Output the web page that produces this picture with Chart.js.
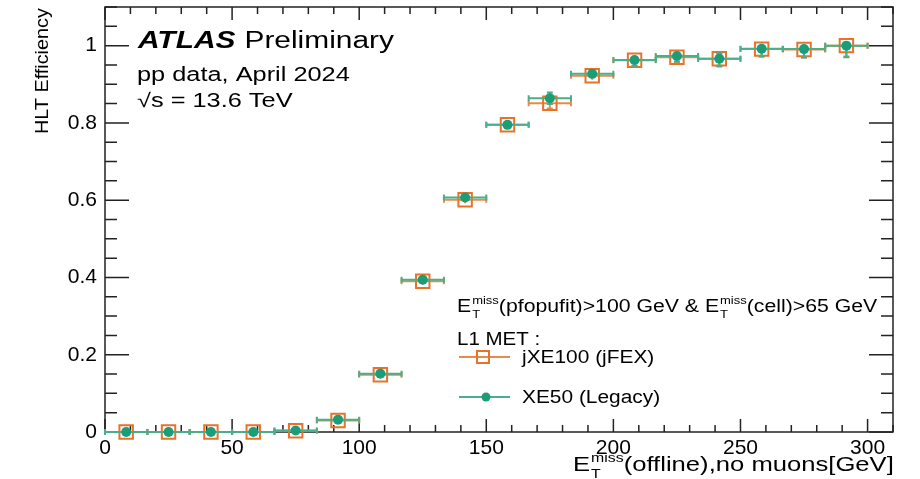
<!DOCTYPE html>
<html>
<head>
<meta charset="utf-8">
<script src="https://cdn.jsdelivr.net/npm/chart.js@4.4.1/dist/chart.umd.min.js"></script>
<style>
  html, body { margin: 0; padding: 0; background: #fff; }
</style>
</head>
<body>
<canvas id="myChart" width="920" height="479"></canvas>
<script>
// bins of offline MET (GeV)
const binCenters = [8.33, 25, 41.67, 58.33, 75, 91.67, 108.33, 125, 141.67, 158.33, 175, 191.67, 208.33, 225, 241.67, 258.33, 275, 291.67];
const binHalfWidth = 8.33;

// jXE100 (jFEX)
const jfexEff     = [0, 0, 0, 0, 0.003, 0.030, 0.148, 0.390, 0.601, 0.795, 0.851, 0.922, 0.962, 0.970, 0.966, 0.991, 0.990, 1.0];
const jfexErrLow  = [0.002, 0.002, 0.002, 0.002, 0.003, 0.004, 0.008, 0.008, 0.009, 0.009, 0.014, 0.010, 0.014, 0.014, 0.018, 0.019, 0.021, 0.028];
const jfexErrHigh = [0.002, 0.002, 0.002, 0.002, 0.003, 0.004, 0.008, 0.008, 0.009, 0.009, 0.014, 0.009, 0.008, 0.008, 0.013, 0.007, 0.008, 0.0];

// XE50 (Legacy)
const legacyEff     = [0, 0, 0, 0, 0.004, 0.032, 0.151, 0.394, 0.607, 0.795, 0.864, 0.927, 0.963, 0.973, 0.966, 0.992, 0.991, 1.0];
const legacyErrLow  = [0.002, 0.002, 0.002, 0.002, 0.003, 0.004, 0.008, 0.008, 0.009, 0.009, 0.015, 0.010, 0.015, 0.014, 0.020, 0.020, 0.022, 0.030];
const legacyErrHigh = [0.002, 0.002, 0.002, 0.002, 0.003, 0.004, 0.008, 0.008, 0.009, 0.009, 0.015, 0.009, 0.008, 0.008, 0.014, 0.007, 0.008, 0.0];

const xTickValues = [0, 50, 100, 150, 200, 250, 300];
const xTickLabels = ['0', '50', '100', '150', '200', '250', '300'];
const yTickValues = [0, 0.2, 0.4, 0.6, 0.8, 1];
const yTickLabels = ['0', '0.2', '0.4', '0.6', '0.8', '1'];

const FONT = '"Liberation Sans", Arial, Helvetica, sans-serif';
const GREEN = '#1b9e77';
const GREEN_BAR = '#4aae8a';
const ORANGE = '#e8722a';
const ORANGE_BAR = '#eb8a48';

// text stretched along its direction, the ROOT output is wider than Liberation Sans
function stretchText(ctx, str, x, y, font, sx) {
  ctx.save();
  ctx.font = font;
  ctx.translate(x, y);
  ctx.scale(sx, 1);
  ctx.textAlign = 'left';
  ctx.textBaseline = 'alphabetic';
  ctx.fillText(str, 0, 0);
  const w = ctx.measureText(str).width * sx;
  ctx.restore();
  return w;
}

// E_T^miss with super/subscript, returns the advance
function etmiss(ctx, x, y, size, sx) {
  let w = stretchText(ctx, 'E', x, y, size + 'px ' + FONT, sx);
  const small = Math.round(size * 0.62);
  const w1 = stretchText(ctx, 'miss', x + w + 1, y - size * 0.42, small + 'px ' + FONT, sx);
  const w2 = stretchText(ctx, 'T', x + w + 1, y + size * 0.32, small + 'px ' + FONT, sx);
  return w + 1 + Math.max(w1, w2);
}

const errorBars = {
  id: 'errorBars',
  beforeDatasetDraw(chart, args) {
    const ds = chart.data.datasets[args.index];
    const xs = chart.scales.x, ys = chart.scales.y;
    const c = chart.ctx;
    c.save();
    c.strokeStyle = ds.barColor;
    c.lineWidth = 2;
    for (let i = 0; i < binCenters.length; i++) {
      const x = xs.getPixelForValue(binCenters[i]);
      const x0 = xs.getPixelForValue(binCenters[i] - binHalfWidth);
      const x1 = xs.getPixelForValue(binCenters[i] + binHalfWidth);
      const y = ys.getPixelForValue(ds.eff[i]);
      const yLo = ys.getPixelForValue(ds.eff[i] - ds.errLow[i]);
      const yHi = ys.getPixelForValue(ds.eff[i] + ds.errHigh[i]);
      c.beginPath();
      c.moveTo(x0, y); c.lineTo(x1, y);
      c.moveTo(x0, y - 3); c.lineTo(x0, y + 3);
      c.moveTo(x1, y - 3); c.lineTo(x1, y + 3);
      c.moveTo(x, yLo); c.lineTo(x, yHi);
      if (yLo - y > 5) { c.moveTo(x - 3, yLo); c.lineTo(x + 3, yLo); }
      if (y - yHi > 5) { c.moveTo(x - 3, yHi); c.lineTo(x + 3, yHi); }
      c.stroke();
    }
    c.restore();
  }
};

const rootFrame = {
  id: 'rootFrame',
  beforeDatasetsDraw(chart) {
    const { left, right, top, bottom } = chart.chartArea;
    const xs = chart.scales.x, ys = chart.scales.y;
    const c = chart.ctx;
    c.save();
    c.strokeStyle = '#222';
    c.lineWidth = 1.5;
    c.strokeRect(left, top, right - left, bottom - top);
    c.beginPath();
    for (let v = 0; v <= 310; v += 10) {
      const px = xs.getPixelForValue(v);
      const len = v % 50 === 0 ? 13 : 7;
      c.moveTo(px, bottom); c.lineTo(px, bottom - len);
      c.moveTo(px, top); c.lineTo(px, top + len);
    }
    for (let k = 0; k <= 22; k++) {
      const v = k * 0.05;
      const py = ys.getPixelForValue(v);
      const len = k % 4 === 0 ? 24 : 12;
      c.moveTo(left, py); c.lineTo(left + len, py);
      c.moveTo(right, py); c.lineTo(right - len, py);
    }
    c.stroke();
    c.restore();
  }
};

const labels = {
  id: 'labels',
  afterDraw(chart) {
    const c = chart.ctx;
    c.save();
    c.fillStyle = '#000';
    // ATLAS label
    const wA = stretchText(c, 'ATLAS', 138, 48, 'italic bold 23px ' + FONT, 1.3);
    stretchText(c, 'Preliminary', 138 + wA + 9, 48, '23px ' + FONT, 1.3);
    stretchText(c, 'pp data, April 2024', 137, 81, '19.5px ' + FONT, 1.3);
    stretchText(c, '\u221As = 13.6 TeV', 137, 107, '19.5px ' + FONT, 1.3);

    // legend
    const ls = 18, lsx = 1.18;
    let x = 457;
    x += etmiss(c, x, 312, ls, lsx);
    x += stretchText(c, '(pfopufit)>100 GeV & ', x, 312, ls + 'px ' + FONT, lsx);
    x += etmiss(c, x, 312, ls, lsx);
    stretchText(c, '(cell)>65 GeV', x, 312, ls + 'px ' + FONT, lsx);
    stretchText(c, 'L1 MET :', 457, 345, ls + 'px ' + FONT, 1.14);

    c.lineWidth = 2;
    c.strokeStyle = ORANGE_BAR;
    c.beginPath(); c.moveTo(459, 357); c.lineTo(510, 357); c.stroke();
    c.strokeStyle = ORANGE;
    c.strokeRect(477, 351, 12, 12);
    stretchText(c, 'jXE100 (jFEX)', 522, 363, ls + 'px ' + FONT, 1.16);

    c.strokeStyle = GREEN_BAR;
    c.beginPath(); c.moveTo(459, 397); c.lineTo(510, 397); c.stroke();
    c.fillStyle = GREEN;
    c.beginPath(); c.arc(486, 397, 4.5, 0, Math.PI * 2); c.fill();
    c.fillStyle = '#000';
    stretchText(c, 'XE50 (Legacy)', 522, 403, ls + 'px ' + FONT, 1.16);

    // x title
    let tx = 573;
    tx += etmiss(c, tx, 471, 21, 1.22);
    stretchText(c, '(offline),no muons[GeV]', tx, 471, '21px ' + FONT, 1.22);

    // y title
    c.save();
    c.translate(48, 134);
    c.rotate(-Math.PI / 2);
    stretchText(c, 'HLT Efficiency', 0, 0, '18px ' + FONT, 1.1);
    c.restore();
    c.restore();
  }
};

const ctx = document.getElementById('myChart').getContext('2d');
new Chart(ctx, {
  type: 'scatter',
  data: {
    datasets: [
      {
        label: 'XE50 (Legacy)',
        data: binCenters.map((x, i) => ({ x: x, y: legacyEff[i] })),
        eff: legacyEff, errLow: legacyErrLow, errHigh: legacyErrHigh, barColor: GREEN_BAR,
        pointStyle: 'circle', pointRadius: 5, pointHoverRadius: 5,
        backgroundColor: GREEN, borderColor: GREEN, pointBorderWidth: 0,
        clip: false
      },
      {
        label: 'jXE100 (jFEX)',
        data: binCenters.map((x, i) => ({ x: x, y: jfexEff[i] })),
        eff: jfexEff, errLow: jfexErrLow, errHigh: jfexErrHigh, barColor: ORANGE_BAR,
        pointStyle: 'rect', pointRadius: 9.5, pointHoverRadius: 9.5,
        backgroundColor: 'rgba(0,0,0,0)', borderColor: ORANGE, pointBorderWidth: 2,
        clip: false
      }
    ]
  },
  options: {
    responsive: false,
    animation: false,
    events: [],
    layout: { autoPadding: false, padding: { top: 7, right: 27, left: 0, bottom: 0 } },
    plugins: { legend: { display: false }, tooltip: { enabled: false } },
    scales: {
      x: {
        type: 'linear', min: 0, max: 310,
        grid: { display: false, drawTicks: false },
        border: { display: false },
        afterBuildTicks: s => { s.ticks = xTickValues.map(v => ({ value: v })); },
        afterFit: s => { s.height = 47; s.paddingLeft = 0; s.paddingRight = 0; },
        ticks: {
          callback: (v, i) => xTickLabels[i],
          font: { family: FONT, size: 21 }, color: '#000',
          padding: 4, maxRotation: 0, autoSkip: false
        }
      },
      y: {
        min: 0, max: 1.1,
        grid: { display: false, drawTicks: false },
        border: { display: false },
        afterBuildTicks: s => { s.ticks = yTickValues.map(v => ({ value: v })); },
        afterFit: s => { s.width = 105; s.paddingTop = 0; s.paddingBottom = 0; },
        ticks: {
          callback: (v, i) => yTickLabels[i],
          font: { family: FONT, size: 21 }, color: '#000',
          padding: 8, autoSkip: false
        }
      }
    }
  },
  plugins: [rootFrame, errorBars, labels]
});
</script>
</body>
</html>
